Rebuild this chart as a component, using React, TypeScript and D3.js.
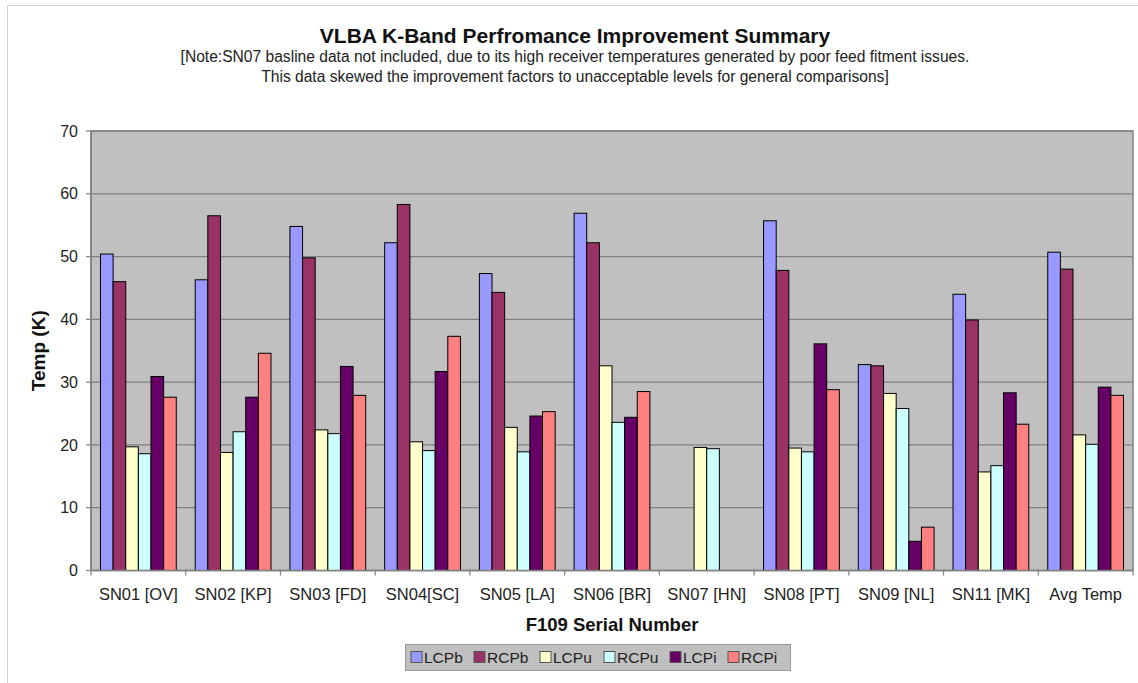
import React from "react";
import * as d3 from "d3";

const categories = [
  "SN01 [OV]", "SN02 [KP]", "SN03 [FD]", "SN04[SC]", "SN05 [LA]", "SN06 [BR]",
  "SN07 [HN]", "SN08 [PT]", "SN09 [NL]", "SN11 [MK]", "Avg Temp",
];
const seriesNames = ["LCPb", "RCPb", "LCPu", "RCPu", "LCPi", "RCPi"];
const seriesColors = ["#9999FF", "#993366", "#FFFFCC", "#CCFFFF", "#660066", "#FF8080"];

const LCPb = [50.4, 46.3, 54.8, 52.2, 47.3, 56.9, null, 55.7, 32.8, 44.0, 50.7];
const RCPb = [46.0, 56.5, 49.8, 58.3, 44.3, 52.2, null, 47.8, 32.6, 39.9, 48.0];
const LCPu = [19.7, 18.8, 22.4, 20.5, 22.8, 32.6, 19.6, 19.5, 28.2, 15.7, 21.6];
const RCPu = [18.6, 22.1, 21.8, 19.1, 18.9, 23.6, 19.4, 18.9, 25.8, 16.7, 20.1];
const LCPi = [30.9, 27.6, 32.5, 31.7, 24.6, 24.4, null, 36.1, 4.65, 28.3, 29.2];
const RCPi = [27.6, 34.6, 27.9, 37.3, 25.3, 28.5, null, 28.8, 6.9, 23.3, 27.9];

const yTicks = [0, 10, 20, 30, 40, 50, 60, 70];

const title = "VLBA K-Band Perfromance Improvement Summary";
const subtitle1 =
  "[Note:SN07 basline data not included, due to its high receiver temperatures generated by poor feed fitment issues.";
const subtitle2 =
  "This data skewed the improvement factors to unacceptable levels for general comparisons]";
const xTitle = "F109 Serial Number";
const yTitle = "Temp (K)";

const W = 1138;
const H = 683;
const FONT = "'Liberation Sans', Arial, Helvetica, sans-serif";

export default function App() {
  const plot = { left: 91, right: 1133, top: 131, bottom: 570.5 };
  const seriesData = [LCPb, RCPb, LCPu, RCPu, LCPi, RCPi];

  const x0 = d3.scaleBand<string>().domain(categories).range([plot.left, plot.right]).paddingInner(0).paddingOuter(0);
  const bw = x0.bandwidth();
  const x1 = d3
    .scaleBand<string>()
    .domain(seriesNames)
    .range([bw * 0.1, bw * 0.9])
    .padding(0);
  const y = d3.scaleLinear().domain([0, 70]).range([plot.bottom, plot.top]);

  const legendX = [411, 474, 540, 604, 670, 728];
  const cx = 575;

  return (
    <svg
      width={W}
      height={H}
      style={{ position: "absolute", left: 0, top: 0, background: "#fff" }}
      fontFamily={FONT}
    >
      <rect x={0} y={0} width={W} height={H} fill="#fff" />
      <rect x={7.5} y={5.5} width={W + 10} height={H + 10} fill="none" stroke="#d4d4d4" strokeWidth={1} />

      <text x={cx} y={43} textAnchor="middle" fontSize={21} fontWeight="bold" fill="#111">
        {title}
      </text>
      <text x={cx} y={62} textAnchor="middle" fontSize={15.6} fill="#222">
        {subtitle1}
      </text>
      <text x={cx} y={82} textAnchor="middle" fontSize={15.6} fill="#222">
        {subtitle2}
      </text>

      {/* plot background */}
      <rect
        x={plot.left}
        y={plot.top}
        width={plot.right - plot.left}
        height={plot.bottom - plot.top}
        fill="#C0C0C0"
        stroke="#808080"
        strokeWidth={1.5}
      />
      {yTicks.map((t) => (
        <g key={t}>
          <line x1={plot.left} x2={plot.right} y1={y(t)} y2={y(t)} stroke="#808080" strokeWidth={1.2} />
          <line x1={plot.left - 5} x2={plot.left} y1={y(t)} y2={y(t)} stroke="#808080" strokeWidth={1.2} />
          <text x={plot.left - 13} y={y(t)} dy="0.35em" textAnchor="end" fontSize={16} fill="#222">
            {t}
          </text>
        </g>
      ))}
      <line x1={plot.left} x2={plot.left} y1={plot.top} y2={plot.bottom} stroke="#808080" strokeWidth={1.5} />

      {/* bars */}
      {categories.map((c, ci) => (
        <g key={c} transform={`translate(${x0(c)},0)`}>
          {seriesNames.map((s, si) => {
            const v = seriesData[si][ci];
            if (v == null) return null;
            return (
              <rect
                key={s}
                x={x1(s)}
                y={y(v)}
                width={x1.bandwidth()}
                height={y(0) - y(v)}
                fill={seriesColors[si]}
                stroke="#000"
                strokeWidth={1}
              />
            );
          })}
        </g>
      ))}

      {/* x axis */}
      <line x1={plot.left} x2={plot.right} y1={plot.bottom} y2={plot.bottom} stroke="#808080" strokeWidth={1.5} />
      {categories.map((c, i) => (
        <line
          key={"t" + i}
          x1={(x0(c) as number)}
          x2={(x0(c) as number)}
          y1={plot.bottom}
          y2={plot.bottom + 5}
          stroke="#808080"
          strokeWidth={1.2}
        />
      ))}
      <line x1={plot.right} x2={plot.right} y1={plot.bottom} y2={plot.bottom + 5} stroke="#808080" strokeWidth={1.2} />
      {categories.map((c) => (
        <text key={"l" + c} x={(x0(c) as number) + bw / 2} y={600} textAnchor="middle" fontSize={16.5} fill="#222">
          {c}
        </text>
      ))}

      <text x={(plot.left + plot.right) / 2} y={631} textAnchor="middle" fontSize={18.5} fontWeight="bold" fill="#111">
        {xTitle}
      </text>
      <text
        transform={`translate(38,${(plot.top + plot.bottom) / 2}) rotate(-90)`}
        textAnchor="middle"
        dy="0.35em"
        fontSize={19}
        fontWeight="bold"
        fill="#111"
      >
        {yTitle}
      </text>

      {/* legend */}
      <rect x={405.5} y={644.5} width={385} height={26} fill="#C0C0C0" stroke="#999" strokeWidth={1} />
      {seriesNames.map((s, i) => (
        <g key={"lg" + s}>
          <rect x={legendX[i]} y={651.5} width={11} height={11} fill={seriesColors[i]} stroke="#555" strokeWidth={1} />
          <text x={legendX[i] + 13} y={657.5} dy="0.35em" fontSize={15.5} fill="#222">
            {s}
          </text>
        </g>
      ))}
    </svg>
  );
}
